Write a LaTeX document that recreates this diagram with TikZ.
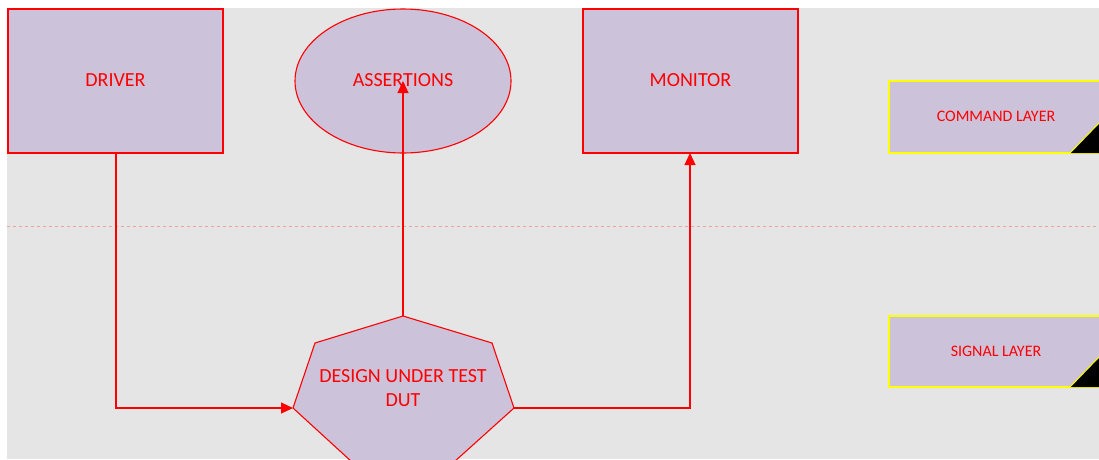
\documentclass[tikz,border=0pt]{standalone}
\usepackage{fontspec}
\setmainfont{Carlito}
\usetikzlibrary{arrows.meta,shapes.geometric}
\definecolor{bggray}{HTML}{E5E5E5}
\definecolor{lav}{HTML}{CCC2DA}
\definecolor{dashred}{HTML}{F4A0A0}
\definecolor{ylw}{HTML}{FFFF00}
\tikzset{
  blockbox/.style={draw=red, line width=1.1pt, fill=lav},
  layerbox/.style={draw=ylw, line width=1.2pt, fill=lav},
  bigtext/.style={text=red, font=\fontsize{20}{24}\selectfont, inner sep=0pt},
  smalltext/.style={text=red, font=\fontsize{16}{19}\selectfont, inner sep=0pt},
  conn/.style={draw=red, line width=1.3pt},
  arr/.style={conn, -{Triangle[length=12pt,width=11pt]}}
}
\begin{document}
\begin{tikzpicture}[x=1pt,y=-1pt]
\useasboundingbox (0,0) rectangle (1099,459);
\fill[white] (0,0) rectangle (1099,459);
\fill[bggray] (7,8) rectangle (1099,459);
% dashed separator
\draw[dashred, dashed, line width=0.8pt] (7,226) -- (1099,226);
% top blocks
\path[blockbox] (8,9) rectangle (223,153);
\node[bigtext] (driver) at (115.5,80.5) {DRIVER};
\coordinate (driverS) at (116,153);
\path[blockbox] (583,9) rectangle (798,153);
\node[bigtext] (monitor) at (690.5,80.5) {MONITOR};
\coordinate (monitorS) at (690,153);
\path[blockbox] (403,81) ellipse [x radius=108, y radius=72];
\node[bigtext] (assert) at (403,80.5) {ASSERTIONS};
\coordinate (assertC) at (403,81);
% DUT heptagon
\coordinate (h1) at (403,316);
\coordinate (h2) at (315,343);
\coordinate (h3) at (293,408);
\coordinate (h4) at (352,462);
\coordinate (h5) at (454,462);
\coordinate (h6) at (514,408);
\coordinate (h7) at (492,343);
\path[blockbox] (h1) -- (h2) -- (h3) -- (h4) -- (h5) -- (h6) -- (h7) -- cycle;
\node[bigtext, align=center] (dut) at (403,388.5) {DESIGN UNDER TEST\\DUT};
% layer boxes
\path[layerbox] (889,81) rectangle (1104,153);
\node[smalltext] (cmd) at (996,116) {COMMAND LAYER};
\fill[black] (1070,153) -- (1099,123) -- (1099,153) -- cycle;
\draw[ylw, line width=1pt] (1070,153) -- (1099,123);
\path[layerbox] (889,316) rectangle (1104,387);
\node[smalltext] (sig) at (996,351) {SIGNAL LAYER};
\fill[black] (1070,387) -- (1099,357) -- (1099,387) -- cycle;
\draw[ylw, line width=1pt] (1070,387) -- (1099,357);
% connectors
\draw[arr] (driverS) |- (h3);
\draw[arr] (h1) -- (assertC);
\draw[arr] (h6) -| (monitorS);
\end{tikzpicture}
\end{document}
